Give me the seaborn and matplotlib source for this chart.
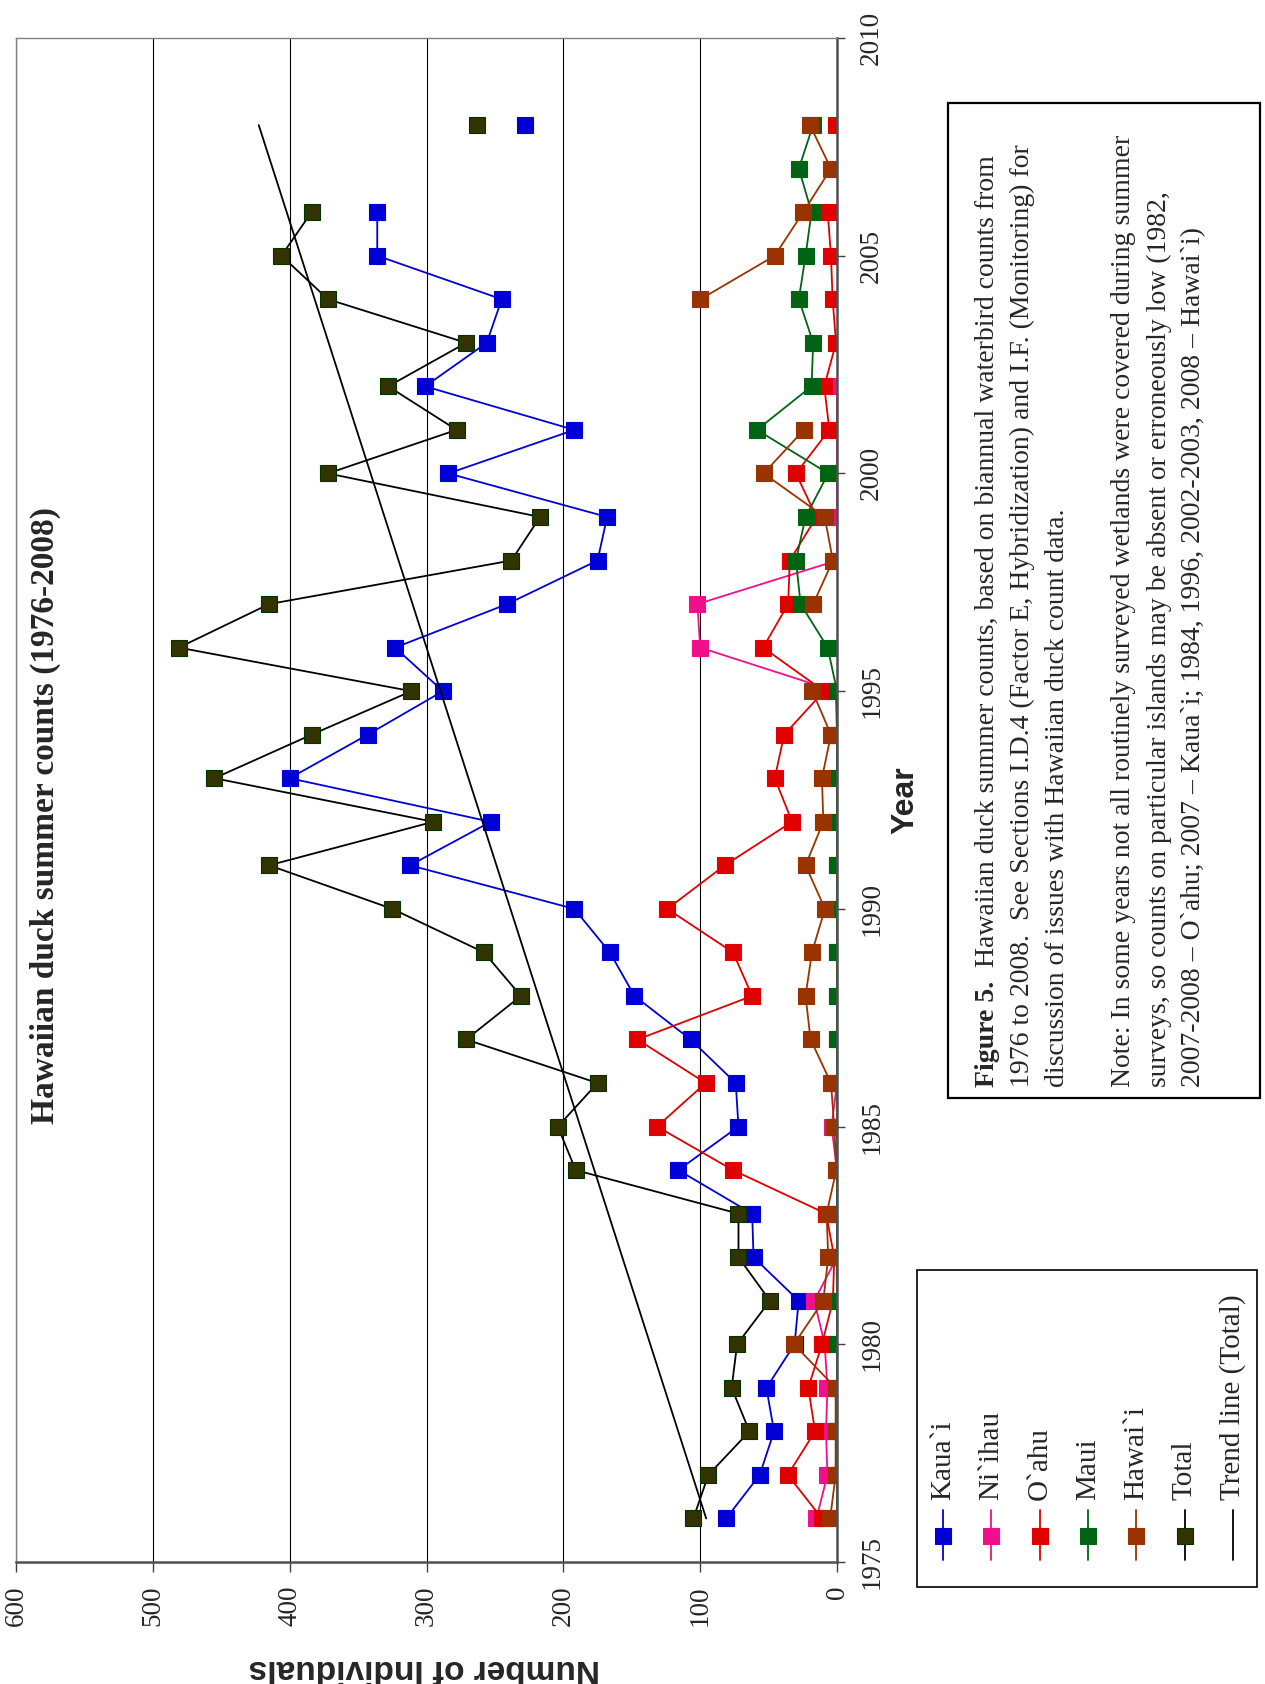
import numpy as np
import pandas as pd
import seaborn as sns
import matplotlib.pyplot as plt
from matplotlib.patches import Rectangle

nan = np.nan
years = list(range(1976, 2009))

kauai = [81, 56.5, 46, 51.6, 31, 28, 61, 62, 116, 72, 74, 107, 148, 166, 192, 312, 253,
         400, 343, 288, 323, 241, 175, 168, 284, 192, 301, 256, 245, 336, 336, nan, 228]
niihau = [15, 7, 8, 7, 9, 16.6, 0, 0, 0, 4, 0, 0, 0, 0, 0, 0, 0, 0, 0, 1, 100, 102,
          0, 0, 0, 0, 0, nan, nan, nan, nan, nan, nan]
oahu = [11, 36, 16, 21, 11, 3, 2, 8, 76, 131.5, 96, 145.8, 62, 76, 124, 82, 32.8, 45.5,
        38.6, 9.5, 54, 35.7, 34.5, 15, 30, 5.6, 9.3, 0.7, 3.2, 4.4, 6.8, nan, 0.7]
maui = [0, 0, 0, 0, 0, 0, 0, 0, 0, 0, 0, 0, 0, 0, 0, 0, 0, 0, 0, 0, 6.8, 26.6, 30, 23,
        6.4, 58.5, 18.6, 17.4, 27.9, 23, 18.6, 27.9, 17.5]
hawaii = [5, 1, 1, 1, 31.5, 10, 6.4, 7.6, 0.5, 2, 4.4, 19.3, 23, 18.3, 8.8, 23, 10, 11,
          4.4, 18, nan, 17.4, 3, 9, 53.6, 24.2, nan, nan, 99.8, 45.5, 24.7, 4.4, 19.8]
total = [105, 94, 64, 77, 73, 49, 72, 72, 191, 204, 175, 271, 231, 258, 325, 415, 295,
         455, 384, 311, 481, 415, 238, 217, 372, 278, 328, 271, 372, 406, 384, nan, 263]

trend_years = [1976, 2008]
trend_total = [95.6, 422.6]

islands = ["Kaua`i", "Ni`ihau", "O`ahu", "Maui", "Hawai`i", "Total"]
series = [kauai, niihau, oahu, maui, hawaii, total]
line_colors = ["#0000D6", "#F0108C", "#E00000", "#006414", "#993300", "#000000"]
face_colors = ["#0000D6", "#F0108C", "#E00000", "#006414", "#993300", "#333300"]
edge_colors = ["#0000D6", "#F0108C", "#E00000", "#006414", "#993300", "#003300"]

# long table, a new segment wherever a year is missing so the line breaks
rows = []
for name, vals in zip(islands, series):
    seg = 0
    for yr, v in zip(years, vals):
        if np.isnan(v):
            seg += 1
            continue
        rows.append({"island": name, "year": yr, "count": v, "seg": f"{name}-{seg}"})
df = pd.DataFrame(rows)

sns.set_style("white")
plt.rcParams["font.family"] = ["Liberation Serif", "DejaVu Serif"]

W, H = 1265, 1684
fig = plt.figure(figsize=(W / 100, H / 100), dpi=100)
ax = fig.add_axes([16 / W, 1 - 1562 / H, 821 / W, 1524 / H])

for name, lc, fc, ec in zip(islands, line_colors, face_colors, edge_colors):
    sub = df[df["island"] == name]
    sns.lineplot(data=sub, x="count", y="year", units="seg", estimator=None,
                 orient="y", sort=True, ax=ax, color=lc, linewidth=1.3,
                 marker="s", markersize=11, markerfacecolor=fc,
                 markeredgecolor=ec, markeredgewidth=0.8, legend=False)

sns.lineplot(x=trend_total, y=trend_years, orient="y", estimator=None, ax=ax,
             color="black", linewidth=1.3)

ax.set_xlim(600, 0)
ax.set_ylim(1975, 2010)
ax.set_xticks(range(0, 601, 100))
ax.set_yticks(range(1975, 2011, 5))
ax.yaxis.tick_right()
ax.set_xlabel("")
ax.set_ylabel("")
ax.tick_params(axis="x", bottom=True, direction="out", length=7, width=1,
               color="#404040", labelsize=19.5, labelrotation=90, pad=10)
ax.tick_params(axis="y", right=True, left=False, direction="out", length=6, width=1,
               color="#404040", labelsize=19.5, labelrotation=90, pad=10)
for lab in ax.get_yticklabels():
    lab.set_va("center")
ax.grid(axis="x", color="black", linewidth=0.8)
ax.grid(axis="y", visible=False)
ax.set_axisbelow(True)
for side in ["left", "top"]:
    ax.spines[side].set_color("#808080")
    ax.spines[side].set_linewidth(1.0)
for side in ["right", "bottom"]:
    ax.spines[side].set_color("#505050")
    ax.spines[side].set_linewidth(1.8)

fig.text(45 / W, 1 - 816 / H, "Hawaiian duck summer counts (1976-2008)", rotation=90,
         ha="center", va="center", fontsize=24, fontweight="bold")
fig.text(424 / W, 1 - 1668 / H, "Number of Individuals", rotation=180, ha="center",
         va="center", fontsize=24, fontweight="bold", family="Liberation Sans")
fig.text(905 / W, 1 - 800 / H, "Year", rotation=90, ha="center", va="center",
         fontsize=23, fontweight="bold", family="Liberation Sans")

# overlay in pixel coordinates for legend and caption
ov = fig.add_axes([0, 0, 1, 1])
ov.set_xlim(0, W)
ov.set_ylim(H, 0)
ov.set_axis_off()

ov.add_patch(Rectangle((917, 1270), 340, 317, fill=False, edgecolor="black", linewidth=1.2))
legend_labels = islands + ["Trend line (Total)"]
for i, lab in enumerate(legend_labels):
    x = 943 + i * 48.3
    lc = line_colors[i] if i < 6 else "black"
    ov.plot([x, x], [1510, 1560], color=lc, linewidth=1.3)
    if i < 6:
        ov.plot([x], [1536], marker="s", markersize=11, color=face_colors[i],
                markeredgecolor=edge_colors[i], markeredgewidth=0.8)
    ov.text(x, 1500, lab, rotation=90, ha="center", va="bottom", fontsize=21)

ov.add_patch(Rectangle((948, 103), 312, 995, fill=False, edgecolor="black", linewidth=1.6))
t1 = ov.text(987, 1087, "Figure 5.", rotation=90, ha="center", va="bottom",
             fontsize=20, fontweight="bold")
ov.annotate("  Hawaiian duck summer counts, based on biannual waterbird counts from",
            xy=(0.5, 1), xycoords=t1, rotation=90, ha="center", va="bottom", fontsize=20)
caption_lines = [
    "1976 to 2008.  See Sections I.D.4 (Factor E, Hybridization) and I.F. (Monitoring) for",
    "discussion of issues with Hawaiian duck count data.",
    "Note: In some years not all routinely surveyed wetlands were covered during summer",
    "surveys, so counts on particular islands may be absent or erroneously low (1982,",
    "2007-2008 \u2013 O`ahu; 2007 \u2013 Kaua`i; 1984, 1996, 2002-2003, 2008 \u2013 Hawai`i)",
]
for x, line in zip([1022, 1058, 1124, 1159, 1194], caption_lines):
    ov.text(x, 1087, line, rotation=90, ha="center", va="bottom", fontsize=20)

fig.savefig("out.png", dpi=100)
